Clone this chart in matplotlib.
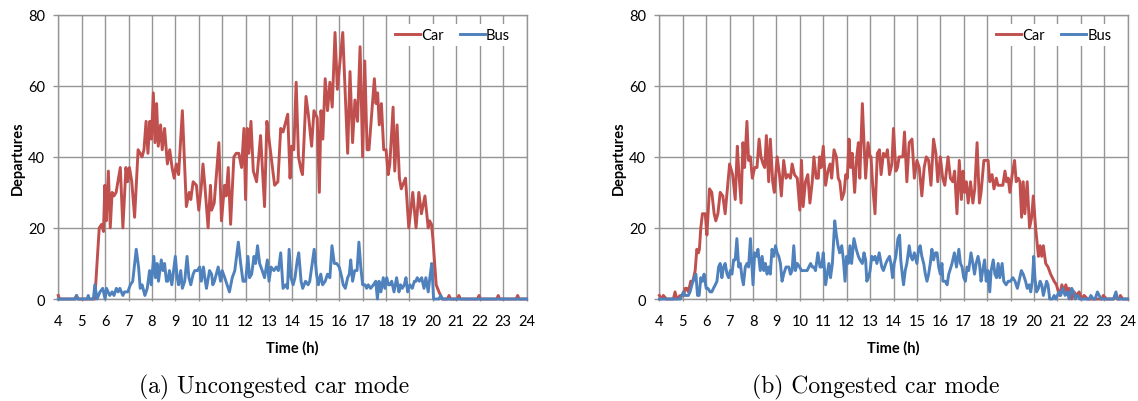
import numpy as np
import matplotlib
matplotlib.use("Agg")
import matplotlib.pyplot as plt

plt.rcParams['font.family'] = ['Lato', 'DejaVu Sans']

# (time in h, departures), panel (a) uncongested
car_a = [
    (4.0, 1), (4.05, 0), (4.7, 0), (4.78, 1), (4.85, 0), (5.56, 0), (5.75, 20), (5.85, 21),
    (5.93, 19), (5.99, 32), (6.05, 22), (6.14, 36), (6.22, 20), (6.3, 30), (6.38, 29),
    (6.47, 30), (6.65, 37), (6.76, 20), (6.89, 37), (6.96, 33), (7.04, 37), (7.14, 33),
    (7.26, 23), (7.41, 42), (7.58, 40), (7.66, 42), (7.75, 50), (7.83, 41), (7.91, 50),
    (7.98, 45), (8.06, 58), (8.13, 44), (8.2, 55), (8.27, 43), (8.37, 49), (8.44, 42),
    (8.54, 48), (8.66, 38), (8.76, 42), (8.86, 37), (8.95, 34), (9.04, 38), (9.14, 35),
    (9.3, 53), (9.47, 26), (9.59, 30), (9.66, 28), (9.76, 33), (9.9, 32), (10.0, 25),
    (10.1, 31), (10.18, 38), (10.26, 32), (10.4, 20), (10.5, 32), (10.55, 25), (10.66, 27),
    (10.86, 44), (10.97, 22), (11.1, 32), (11.17, 29), (11.26, 37), (11.36, 21), (11.5, 40),
    (11.6, 41), (11.71, 41), (11.83, 37), (11.93, 48), (12.0, 28), (12.07, 48), (12.14, 41),
    (12.23, 50), (12.33, 36), (12.47, 33), (12.64, 46), (12.81, 26), (12.91, 50), (13.0, 45),
    (13.24, 32), (13.38, 33), (13.5, 48), (13.6, 47), (13.8, 52), (13.9, 34), (13.97, 43),
    (14.06, 42), (14.16, 61), (14.26, 40), (14.38, 36), (14.43, 35), (14.58, 57), (14.68, 52),
    (14.82, 43), (14.92, 53), (15.06, 51), (15.15, 30), (15.22, 53), (15.3, 45), (15.4, 62),
    (15.5, 53), (15.6, 61), (15.7, 54), (15.82, 75), (15.92, 59), (16.15, 75), (16.36, 41),
    (16.46, 64), (16.57, 44), (16.67, 56), (16.78, 50), (16.89, 71), (17.0, 40), (17.09, 67),
    (17.19, 42), (17.27, 42), (17.5, 62), (17.57, 55), (17.64, 58), (17.71, 49), (17.8, 55),
    (17.9, 42), (18.0, 42), (18.09, 35), (18.16, 38), (18.3, 54), (18.37, 36), (18.47, 49),
    (18.57, 34), (18.65, 31), (18.83, 34), (18.97, 20), (19.14, 30), (19.28, 20), (19.4, 30),
    (19.51, 24), (19.66, 29), (19.8, 20), (19.86, 22), (19.94, 21), (20.0, 17), (20.14, 4),
    (20.26, 2), (20.4, 0), (20.63, 0), (20.69, 1), (20.75, 0), (21.05, 0), (21.11, 1),
    (21.17, 0), (21.91, 0), (21.97, 1), (22.03, 0), (22.73, 0), (22.79, 1), (22.85, 0),
    (23.56, 0), (23.62, 1), (23.68, 0), (24.0, 0),
]
bus_a = [
    (4.0, 0), (4.74, 0), (4.78, 1), (4.82, 0), (5.24, 0), (5.28, 1), (5.32, 0), (5.5, 0),
    (5.56, 4), (5.66, 0), (5.78, 2), (5.9, 3), (6.0, 0), (6.06, 3), (6.2, 1), (6.3, 2),
    (6.38, 1), (6.48, 3), (6.56, 2), (6.63, 3), (6.76, 1), (6.83, 2), (6.97, 2), (7.08, 4),
    (7.18, 5), (7.33, 14), (7.43, 9), (7.5, 3), (7.58, 4), (7.7, 1), (7.8, 3), (7.9, 8),
    (7.97, 4), (8.08, 12), (8.15, 6), (8.22, 10), (8.28, 5), (8.4, 11), (8.47, 8), (8.54, 10),
    (8.62, 5), (8.68, 5), (8.75, 8), (8.85, 4), (9.0, 12), (9.08, 6), (9.14, 4), (9.23, 8),
    (9.3, 3), (9.4, 5), (9.5, 12), (9.58, 6), (9.66, 4), (9.76, 7), (9.83, 8), (9.94, 8),
    (10.04, 9), (10.11, 5), (10.2, 9), (10.28, 5), (10.33, 3), (10.46, 8), (10.55, 7),
    (10.6, 4), (10.67, 5), (10.83, 9), (10.93, 5), (11.0, 8), (11.11, 6), (11.21, 4),
    (11.31, 2), (11.43, 6), (11.54, 8), (11.69, 16), (11.79, 10), (11.89, 5), (12.0, 5),
    (12.1, 12), (12.17, 6), (12.26, 7), (12.36, 12), (12.43, 10), (12.51, 15), (12.6, 10),
    (12.71, 8), (12.81, 6), (12.93, 11), (13.0, 5), (13.09, 9), (13.21, 8), (13.31, 9),
    (13.4, 8), (13.5, 13), (13.6, 3), (13.71, 4), (13.79, 3), (13.86, 14), (13.94, 6),
    (14.03, 4), (14.11, 6), (14.21, 11), (14.27, 13), (14.37, 5), (14.44, 3), (14.56, 5),
    (14.67, 4), (14.74, 5), (14.93, 14), (15.03, 7), (15.11, 4), (15.21, 7), (15.29, 4),
    (15.4, 5), (15.5, 7), (15.6, 6), (15.69, 15), (15.79, 10), (15.89, 10), (16.0, 9),
    (16.11, 6), (16.17, 4), (16.26, 3), (16.36, 6), (16.43, 7), (16.49, 11), (16.57, 5),
    (16.66, 8), (16.76, 8), (16.84, 16), (16.92, 9), (17.0, 4), (17.1, 4), (17.17, 3),
    (17.24, 4), (17.34, 3), (17.46, 4), (17.56, 5), (17.63, 0), (17.7, 5), (17.78, 2),
    (17.88, 6), (17.95, 3), (18.03, 6), (18.1, 4), (18.17, 4), (18.24, 5), (18.34, 2),
    (18.45, 6), (18.55, 2), (18.62, 4), (18.69, 3), (18.78, 4), (18.85, 6), (18.92, 2),
    (19.02, 4), (19.12, 3), (19.21, 5), (19.28, 5), (19.33, 6), (19.42, 5), (19.52, 6),
    (19.62, 3), (19.7, 6), (19.8, 2), (19.87, 6), (19.95, 10), (20.03, 0), (20.26, 0),
    (20.33, 1), (20.4, 0), (24.0, 0),
]

# panel (b) congested
car_b = [
    (4.0, 1), (4.1, 0), (4.17, 1), (4.3, 0), (4.6, 0), (4.67, 2), (4.74, 0), (4.89, 1),
    (5.03, 1), (5.1, 3), (5.17, 3), (5.24, 2), (5.34, 5), (5.43, 5), (5.53, 8), (5.6, 14),
    (5.67, 13), (5.71, 14), (5.77, 20), (5.84, 24), (5.96, 24), (6.03, 18), (6.14, 31),
    (6.24, 30), (6.34, 24), (6.41, 22), (6.5, 24), (6.6, 30), (6.71, 29), (6.81, 24),
    (7.0, 38), (7.13, 35), (7.24, 28), (7.33, 43), (7.39, 36), (7.49, 27), (7.57, 44),
    (7.64, 37), (7.74, 50), (7.81, 39), (7.89, 40), (7.97, 34), (8.07, 37), (8.17, 37),
    (8.26, 45), (8.34, 40), (8.43, 38), (8.5, 37), (8.57, 46), (8.67, 33), (8.74, 45),
    (8.84, 33), (8.91, 30), (9.03, 40), (9.13, 35), (9.21, 29), (9.31, 39), (9.41, 34),
    (9.5, 35), (9.6, 34), (9.67, 38), (9.77, 35), (9.89, 34), (10.0, 25), (10.07, 39),
    (10.14, 26), (10.24, 33), (10.34, 35), (10.43, 27), (10.53, 33), (10.6, 40), (10.7, 34),
    (10.79, 34), (10.84, 40), (10.91, 37), (11.0, 43), (11.1, 32), (11.2, 36), (11.29, 38),
    (11.36, 34), (11.46, 42), (11.56, 40), (11.64, 34), (11.71, 33), (11.79, 28), (11.89, 30),
    (11.96, 35), (12.03, 34), (12.1, 45), (12.17, 37), (12.24, 41), (12.34, 30), (12.43, 40),
    (12.5, 44), (12.56, 34), (12.67, 55), (12.74, 44), (12.81, 34), (12.91, 44), (13.0, 40),
    (13.04, 40), (13.11, 32), (13.21, 24), (13.31, 41), (13.4, 42), (13.47, 35), (13.57, 41),
    (13.67, 40), (13.74, 42), (13.83, 35), (13.93, 38), (14.0, 48), (14.1, 36), (14.17, 37),
    (14.24, 40), (14.31, 40), (14.4, 40), (14.47, 47), (14.57, 33), (14.67, 44), (14.79, 45),
    (14.89, 34), (15.0, 39), (15.1, 37), (15.21, 29), (15.31, 37), (15.4, 40), (15.5, 39),
    (15.6, 32), (15.71, 45), (15.81, 41), (15.89, 33), (16.0, 40), (16.1, 34), (16.19, 32),
    (16.33, 40), (16.43, 34), (16.53, 33), (16.61, 36), (16.71, 24), (16.81, 39), (16.9, 28),
    (16.97, 36), (17.04, 30), (17.11, 33), (17.19, 27), (17.29, 33), (17.39, 27), (17.47, 31),
    (17.57, 44), (17.67, 27), (17.74, 30), (17.86, 39), (17.96, 39), (18.04, 39), (18.11, 33),
    (18.21, 35), (18.29, 31), (18.39, 34), (18.46, 32), (18.57, 32), (18.67, 32), (18.76, 36),
    (18.83, 33), (18.9, 34), (18.97, 30), (19.07, 35), (19.17, 39), (19.24, 33), (19.33, 34),
    (19.4, 33), (19.47, 23), (19.54, 33), (19.61, 24), (19.71, 33), (19.81, 20), (19.9, 23),
    (19.97, 29), (20.07, 20), (20.19, 12), (20.26, 15), (20.33, 12), (20.4, 15), (20.5, 10),
    (20.6, 9), (20.71, 7), (20.86, 5), (20.96, 4), (21.0, 3), (21.1, 1), (21.19, 4),
    (21.29, 2), (21.36, 4), (21.43, 2), (21.5, 3), (21.61, 0), (21.71, 2), (21.81, 1),
    (21.93, 2), (22.03, 0), (22.14, 1), (22.29, 0), (22.9, 0), (22.96, 1), (23.1, 0),
    (23.4, 0), (23.47, 1), (23.57, 0), (23.64, 0), (23.69, 1), (23.79, 0), (24.0, 0),
]
bus_b = [
    (4.0, 0), (4.9, 0), (4.96, 1), (5.03, 2), (5.1, 1), (5.24, 1), (5.31, 2), (5.39, 4),
    (5.49, 6), (5.56, 7), (5.63, 1), (5.7, 1), (5.77, 6), (5.84, 5), (5.91, 7), (6.0, 3),
    (6.07, 3), (6.17, 2), (6.24, 2), (6.31, 3), (6.39, 4), (6.46, 5), (6.53, 9), (6.6, 10),
    (6.67, 6), (6.74, 9), (6.81, 10), (6.89, 7), (6.96, 6), (7.03, 8), (7.1, 7), (7.17, 11),
    (7.24, 11), (7.31, 17), (7.39, 9), (7.46, 10), (7.53, 6), (7.59, 4), (7.67, 9), (7.74, 10),
    (7.81, 9), (7.89, 17), (7.96, 9), (8.0, 4), (8.07, 13), (8.14, 12), (8.21, 14), (8.31, 8),
    (8.39, 12), (8.46, 8), (8.53, 10), (8.6, 7), (8.67, 9), (8.74, 7), (8.81, 14), (8.89, 12),
    (8.96, 15), (9.03, 13), (9.1, 12), (9.17, 10), (9.24, 5), (9.31, 7), (9.41, 9), (9.53, 9),
    (9.6, 7), (9.67, 8), (9.74, 15), (9.81, 8), (9.89, 10), (9.99, 9), (10.07, 8), (10.17, 8),
    (10.31, 8), (10.46, 10), (10.53, 9), (10.6, 9), (10.67, 8), (10.77, 13), (10.86, 9),
    (10.93, 9), (11.0, 13), (11.1, 4), (11.17, 7), (11.24, 10), (11.31, 6), (11.39, 10),
    (11.49, 22), (11.56, 18), (11.63, 15), (11.7, 13), (11.79, 15), (11.86, 11), (11.93, 5),
    (12.0, 12), (12.07, 10), (12.14, 15), (12.21, 10), (12.31, 17), (12.41, 14), (12.5, 12),
    (12.57, 11), (12.67, 10), (12.74, 13), (12.81, 11), (12.86, 5), (12.93, 6), (13.0, 8),
    (13.07, 12), (13.14, 11), (13.21, 12), (13.29, 10), (13.39, 13), (13.5, 9), (13.57, 8),
    (13.67, 10), (13.74, 11), (13.83, 12), (13.89, 10), (13.96, 6), (14.03, 10), (14.1, 12),
    (14.19, 17), (14.26, 18), (14.31, 11), (14.39, 6), (14.43, 4), (14.5, 8), (14.57, 10),
    (14.67, 15), (14.74, 12), (14.81, 11), (14.89, 13), (15.0, 10), (15.07, 14), (15.14, 15),
    (15.21, 12), (15.29, 10), (15.36, 7), (15.43, 5), (15.5, 7), (15.57, 10), (15.64, 14),
    (15.71, 11), (15.79, 13), (15.86, 13), (15.93, 9), (16.0, 7), (16.07, 10), (16.11, 5),
    (16.21, 5), (16.29, 4), (16.36, 7), (16.5, 10), (16.6, 13), (16.69, 9), (16.79, 14),
    (16.86, 10), (16.93, 9), (17.0, 6), (17.07, 5), (17.14, 9), (17.21, 8), (17.31, 13),
    (17.39, 10), (17.46, 7), (17.53, 10), (17.61, 12), (17.67, 10), (17.74, 5), (17.81, 8),
    (17.89, 11), (17.96, 5), (18.03, 8), (18.11, 2), (18.17, 8), (18.26, 11), (18.33, 7),
    (18.4, 6), (18.47, 10), (18.54, 6), (18.64, 10), (18.71, 5), (18.81, 4), (18.9, 5),
    (19.0, 5), (19.1, 6), (19.19, 5), (19.29, 3), (19.36, 5), (19.46, 8), (19.54, 7),
    (19.64, 5), (19.71, 3), (19.79, 4), (19.86, 2), (19.93, 5), (19.99, 12), (20.04, 6),
    (20.11, 2), (20.19, 3), (20.26, 5), (20.33, 4), (20.4, 1), (20.47, 3), (20.54, 5),
    (20.6, 4), (20.67, 0), (20.79, 0), (20.86, 1), (20.93, 0), (21.0, 1), (21.07, 2),
    (21.14, 1), (21.23, 3), (21.33, 1), (21.43, 2), (21.5, 0), (21.61, 3), (21.69, 2),
    (21.76, 0), (21.86, 1), (21.96, 0), (22.36, 0), (22.43, 1), (22.53, 0), (22.61, 0),
    (22.71, 2), (22.86, 0), (23.4, 0), (23.5, 2), (23.57, 0), (24.0, 0),
]

panels = [(car_a, bus_a, '(a) Uncongested car mode'),
          (car_b, bus_b, '(b) Congested car mode')]
hours = np.arange(4, 25)
yticks = [0, 20, 40, 60, 80]

car_color = '#C0504D'
bus_color = '#4F81BD'
grid_color = '#959595'

fig = plt.figure(figsize=(11.38, 4.02), dpi=100)
lefts = [0.0512, 0.5794]

for (car, bus, caption), left in zip(panels, lefts):
    ax = fig.add_axes([left, 0.2537, 0.4115, 0.7072])
    ct, cv = zip(*car)
    bt, bv = zip(*bus)
    ax.plot(ct, cv, color=car_color, lw=2.1, label='Car', clip_on=False, zorder=3)
    ax.plot(bt, bv, color=bus_color, lw=2.1, label='Bus', clip_on=False, zorder=4)

    ax.set_xlim(4, 24)
    ax.set_ylim(0, 80)
    ax.set_xticks(hours)
    ax.set_yticks(yticks)
    ax.grid(True, color=grid_color, lw=1.0)
    ax.set_axisbelow(True)
    for s in ax.spines.values():
        s.set_color(grid_color)
        s.set_linewidth(1.0)
    ax.tick_params(axis='y', colors=grid_color, labelcolor='black',
                   length=3.6, width=1.0, labelsize=10.5, pad=6)
    ax.tick_params(axis='x', colors=grid_color, labelcolor='black',
                   length=1.5, width=1.0, labelsize=10.5, pad=9)

    ax.set_xlabel('Time (h)', fontsize=10.5, fontweight='bold', labelpad=9)
    ax.set_ylabel('Departures', fontsize=10.5, fontweight='bold', labelpad=2)

    leg = ax.legend(loc='center', bbox_to_anchor=(0.842, 0.929), ncol=2,
                    fontsize=10.5, handlelength=1.7, handletextpad=0.1,
                    columnspacing=1.1, frameon=True, borderpad=0.3)
    leg.get_frame().set_edgecolor('none')
    leg.get_frame().set_facecolor('white')
    leg.get_frame().set_alpha(1)

    fig.text(left + 0.2057 - 0.016, 0.035, caption, ha='center', va='center',
             fontsize=17, family='cmr10')

fig.savefig('out.png', dpi=100)
